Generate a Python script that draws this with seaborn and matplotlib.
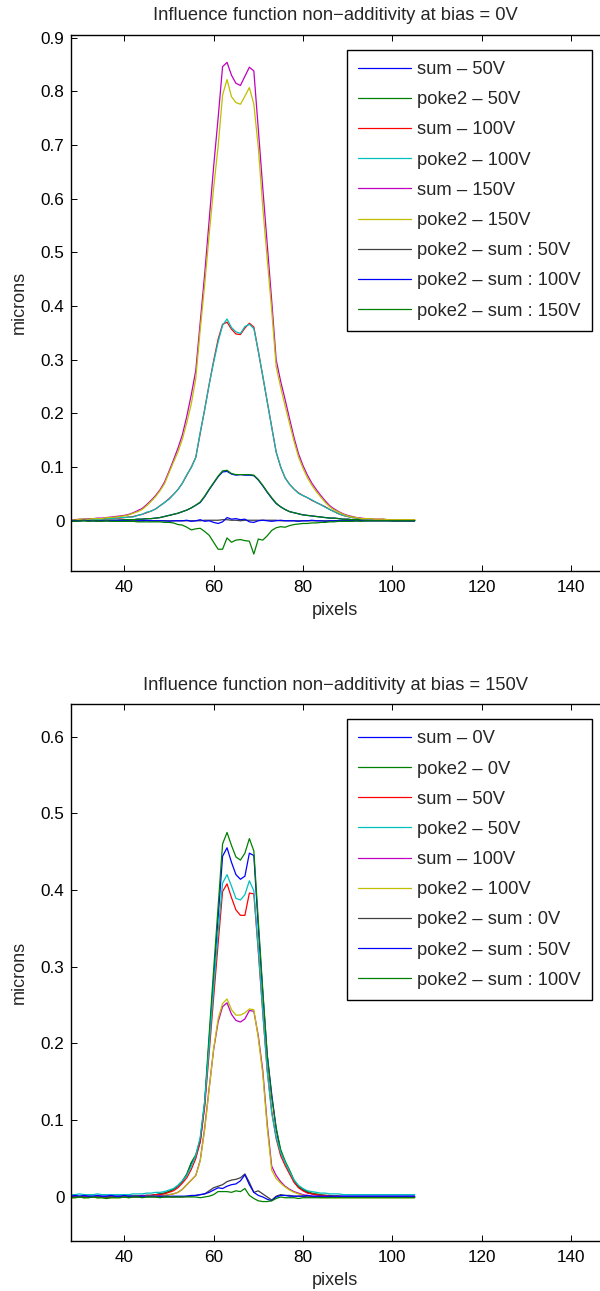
import numpy as np
import pandas as pd
import matplotlib
matplotlib.use("Agg")
import matplotlib.pyplot as plt
import seaborn as sns
from matplotlib.ticker import FixedLocator, FuncFormatter

sns.set_style("ticks")
plt.rcParams['font.family'] = ['Liberation Sans', 'DejaVu Sans']

# ---------------- data ----------------
x = np.arange(28, 106)  # pixel positions 28..105

# Top panel: bias = 0V
top_labels = ["sum – 50V", "poke2 – 50V", "sum – 100V", "poke2 – 100V", "sum – 150V",
              "poke2 – 150V", "poke2 – sum : 50V", "poke2 – sum : 100V", "poke2 – sum : 150V"]

top_sum50 = [0.000,0.000,0.000,0.001,0.001,0.001,0.001,0.001,0.001,0.001,
             0.001,0.001,0.002,0.002,0.002,0.003,0.003,0.004,0.004,0.005,
             0.006,0.008,0.010,0.012,0.014,0.017,0.020,0.024,0.029,0.034,
             0.045,0.058,0.070,0.082,0.091,0.092,0.087,0.085,0.086,0.085,
             0.085,0.084,0.076,0.065,0.053,0.042,0.032,0.026,0.021,0.017,
             0.015,0.013,0.011,0.010,0.009,0.008,0.007,0.006,0.005,0.005,
             0.004,0.003,0.003,0.002,0.002,0.002,0.001,0.001,0.001,0.001,
             0.001,0.001,0.000,0.000,0.000,0.000,0.000,0.000]
top_poke50 = [0.000,0.000,0.000,0.001,0.001,0.001,0.001,0.001,0.001,0.001,
              0.001,0.001,0.002,0.002,0.002,0.003,0.003,0.004,0.004,0.005,
              0.006,0.008,0.010,0.012,0.014,0.017,0.020,0.024,0.029,0.035,
              0.046,0.059,0.071,0.083,0.093,0.094,0.088,0.086,0.086,0.086,
              0.086,0.085,0.077,0.066,0.054,0.043,0.033,0.026,0.021,0.017,
              0.015,0.013,0.011,0.010,0.009,0.008,0.007,0.006,0.005,0.005,
              0.004,0.003,0.003,0.002,0.002,0.002,0.001,0.001,0.001,0.001,
              0.001,0.001,0.000,0.000,0.000,0.000,0.000,0.000]
top_sum100 = [0.001,0.001,0.002,0.002,0.002,0.003,0.003,0.003,0.004,0.004,
              0.005,0.005,0.006,0.007,0.008,0.010,0.012,0.015,0.018,0.022,
              0.028,0.034,0.041,0.049,0.058,0.070,0.085,0.100,0.118,0.163,
              0.208,0.254,0.298,0.338,0.366,0.370,0.357,0.348,0.347,0.359,
              0.368,0.361,0.316,0.269,0.222,0.175,0.128,0.100,0.080,0.068,
              0.059,0.052,0.047,0.043,0.038,0.034,0.030,0.026,0.021,0.017,
              0.013,0.010,0.008,0.006,0.005,0.004,0.003,0.003,0.002,0.002,
              0.002,0.001,0.001,0.001,0.001,0.001,0.001,0.001]
top_poke100 = [0.001,0.001,0.002,0.003,0.002,0.003,0.002,0.003,0.004,0.004,
               0.005,0.006,0.006,0.007,0.007,0.010,0.012,0.016,0.018,0.022,
               0.028,0.034,0.040,0.049,0.058,0.070,0.086,0.099,0.118,0.165,
               0.207,0.254,0.295,0.333,0.364,0.376,0.360,0.352,0.349,0.362,
               0.366,0.358,0.316,0.270,0.222,0.174,0.128,0.101,0.080,0.068,
               0.059,0.051,0.047,0.043,0.039,0.034,0.030,0.025,0.021,0.017,
               0.013,0.010,0.008,0.006,0.005,0.004,0.003,0.003,0.002,0.002,
               0.002,0.001,0.001,0.001,0.001,0.001,0.001,0.001]
top_sum150 = [0.002,0.002,0.003,0.003,0.004,0.004,0.005,0.005,0.006,0.007,
              0.008,0.009,0.010,0.012,0.015,0.019,0.023,0.030,0.038,0.047,
              0.058,0.072,0.092,0.113,0.135,0.160,0.195,0.235,0.280,0.370,
              0.460,0.560,0.660,0.750,0.846,0.854,0.830,0.815,0.811,0.828,
              0.845,0.838,0.730,0.620,0.515,0.410,0.300,0.260,0.226,0.190,
              0.155,0.125,0.103,0.085,0.070,0.058,0.047,0.037,0.028,0.022,
              0.017,0.013,0.010,0.008,0.006,0.005,0.004,0.004,0.003,0.003,
              0.003,0.002,0.002,0.002,0.002,0.002,0.002,0.002]
top_poke150 = [0.002,0.001,0.003,0.003,0.003,0.004,0.004,0.004,0.006,0.006,
               0.007,0.008,0.009,0.011,0.014,0.017,0.021,0.028,0.036,0.045,
               0.056,0.069,0.089,0.109,0.128,0.152,0.183,0.218,0.265,0.356,
               0.440,0.533,0.620,0.697,0.793,0.822,0.790,0.779,0.776,0.791,
               0.807,0.776,0.696,0.584,0.487,0.392,0.287,0.249,0.214,0.181,
               0.148,0.119,0.098,0.080,0.066,0.054,0.044,0.034,0.026,0.020,
               0.016,0.012,0.009,0.007,0.006,0.004,0.004,0.004,0.003,0.003,
               0.003,0.002,0.002,0.002,0.002,0.002,0.002,0.002]
top_diff50 = [0.000,0.000,0.000,0.000,0.000,0.000,0.000,0.000,0.000,0.000,
              0.000,0.000,0.000,0.000,0.000,0.000,0.000,0.000,0.000,0.000,
              0.000,0.000,0.000,0.000,0.000,0.000,0.000,0.000,0.000,0.000,
              0.001,0.001,0.001,0.001,0.002,0.002,0.001,0.001,0.000,0.001,
              0.001,0.001,0.001,0.001,0.001,0.001,0.001,0.000,0.000,0.000,
              0.000,0.000,0.000,0.000,0.000,0.000,0.000,0.000,0.000,0.000,
              0.000,0.000,0.000,0.000,0.000,0.000,0.000,0.000,0.000,0.000,
              0.000,0.000,0.000,0.000,0.000,0.000,0.000,0.000]
top_diff100 = [0.000,0.000,0.000,0.001,0.000,0.000,-0.001,0.000,0.000,0.000,
               0.000,0.001,0.000,0.000,-0.001,0.000,0.000,0.001,0.000,0.000,
               0.000,0.000,-0.001,0.000,0.000,0.000,0.001,-0.001,0.000,0.002,
               -0.001,0.000,-0.003,-0.005,-0.002,0.006,0.003,0.004,0.002,0.003,
               -0.002,-0.003,0.000,0.001,0.000,-0.001,0.000,0.001,0.000,0.000,
               0.000,-0.001,0.000,0.000,0.001,0.000,0.000,-0.001,0.000,0.000,
               0.000,0.000,0.000,0.000,0.000,0.000,0.000,0.000,0.000,0.000,
               0.000,0.000,0.000,0.000,0.000,0.000,0.000,0.000]
top_diff150 = [0.000,-0.001,0.000,0.000,-0.001,0.000,-0.001,-0.001,0.000,-0.001,
               -0.001,-0.001,-0.001,-0.001,-0.001,-0.002,-0.002,-0.002,-0.002,-0.002,
               -0.002,-0.003,-0.003,-0.004,-0.007,-0.008,-0.012,-0.017,-0.015,-0.014,
               -0.020,-0.027,-0.040,-0.053,-0.053,-0.032,-0.040,-0.036,-0.035,-0.037,
               -0.038,-0.062,-0.034,-0.036,-0.028,-0.018,-0.013,-0.011,-0.012,-0.009,
               -0.007,-0.006,-0.005,-0.005,-0.004,-0.004,-0.003,-0.003,-0.002,-0.002,
               -0.001,-0.001,-0.001,-0.001,0.000,-0.001,0.000,0.000,0.000,0.000,
               0.000,0.000,0.000,0.000,0.000,0.000,0.000,0.000]

# Bottom panel: bias = 150V
bot_labels = ["sum – 0V", "poke2 – 0V", "sum – 50V", "poke2 – 50V", "sum – 100V",
              "poke2 – 100V", "poke2 – sum : 0V", "poke2 – sum : 50V", "poke2 – sum : 100V"]

bot_sum0 = [0.001,0.001,0.001,0.001,0.001,0.001,0.001,0.001,0.001,0.001,
            0.001,0.001,0.001,0.001,0.001,0.001,0.002,0.002,0.002,0.003,
            0.004,0.005,0.007,0.010,0.014,0.020,0.029,0.044,0.053,0.072,
            0.121,0.204,0.284,0.364,0.444,0.455,0.436,0.420,0.414,0.418,
            0.448,0.445,0.352,0.266,0.185,0.134,0.089,0.059,0.045,0.033,
            0.021,0.013,0.009,0.006,0.004,0.003,0.002,0.002,0.001,0.001,
            0.001,0.001,0.001,0.001,0.001,0.001,0.001,0.001,0.001,0.001,
            0.001,0.001,0.001,0.001,0.001,0.001,0.001,0.001]
bot_poke0 = [0.000,0.000,0.000,-0.001,0.000,0.000,-0.001,0.000,0.000,0.000,
             0.000,0.000,0.000,0.001,0.001,0.001,0.001,0.002,0.002,0.003,
             0.004,0.005,0.007,0.010,0.015,0.021,0.030,0.045,0.055,0.075,
             0.125,0.212,0.296,0.378,0.460,0.475,0.458,0.443,0.439,0.448,
             0.467,0.451,0.360,0.270,0.185,0.130,0.090,0.062,0.047,0.035,
             0.022,0.014,0.010,0.007,0.005,0.004,0.003,0.002,0.002,0.001,
             0.001,0.000,0.000,0.000,0.000,0.000,0.000,0.000,0.000,0.000,
             0.000,0.000,0.000,0.000,0.000,0.000,0.000,0.000]
bot_sum50 = [0.000,0.000,0.000,0.000,0.000,0.000,0.000,0.000,0.000,0.000,
             0.000,0.000,0.000,0.000,0.001,0.001,0.001,0.002,0.002,0.003,
             0.003,0.004,0.006,0.008,0.012,0.018,0.025,0.036,0.050,0.072,
             0.118,0.188,0.260,0.330,0.398,0.408,0.390,0.374,0.367,0.367,
             0.396,0.395,0.320,0.240,0.165,0.112,0.076,0.054,0.041,0.030,
             0.019,0.012,0.008,0.005,0.004,0.003,0.002,0.002,0.001,0.001,
             0.001,0.000,0.000,0.000,0.000,0.000,0.000,0.000,0.000,0.000,
             0.000,0.000,0.000,0.000,0.000,0.000,0.000,0.000]
bot_poke50 = [0.003,0.003,0.004,0.003,0.003,0.003,0.004,0.003,0.003,0.003,
              0.003,0.003,0.003,0.003,0.004,0.004,0.004,0.005,0.005,0.006,
              0.006,0.007,0.009,0.011,0.015,0.021,0.028,0.040,0.054,0.078,
              0.124,0.196,0.272,0.345,0.409,0.420,0.405,0.389,0.387,0.394,
              0.412,0.399,0.323,0.242,0.164,0.109,0.078,0.058,0.045,0.033,
              0.022,0.015,0.011,0.008,0.007,0.006,0.005,0.005,0.004,0.004,
              0.004,0.003,0.003,0.003,0.003,0.003,0.003,0.003,0.003,0.003,
              0.003,0.003,0.003,0.003,0.003,0.003,0.003,0.003]
bot_sum100 = [0.000,0.000,0.000,0.000,0.000,0.000,0.000,0.000,0.000,0.000,
              0.000,0.000,0.000,0.000,0.000,0.000,0.001,0.001,0.001,0.001,
              0.002,0.002,0.003,0.004,0.006,0.010,0.016,0.022,0.028,0.048,
              0.090,0.142,0.192,0.228,0.248,0.253,0.238,0.230,0.228,0.232,
              0.243,0.242,0.210,0.165,0.095,0.040,0.028,0.020,0.014,0.010,
              0.007,0.005,0.003,0.002,0.001,0.001,0.000,0.000,0.000,0.000,
              0.000,0.000,0.000,0.000,0.000,0.000,0.000,0.000,0.000,0.000,
              0.000,0.000,0.000,0.000,0.000,0.000,0.000,0.000]
bot_poke100 = [-0.001,-0.001,0.000,-0.001,-0.001,0.000,-0.001,-0.001,-0.002,-0.001,
               -0.001,-0.001,0.000,-0.001,0.000,0.000,0.000,0.001,0.001,0.001,
               0.001,0.002,0.003,0.004,0.006,0.010,0.016,0.022,0.028,0.047,
               0.088,0.140,0.193,0.232,0.252,0.258,0.244,0.237,0.237,0.240,
               0.245,0.244,0.207,0.160,0.090,0.035,0.024,0.018,0.013,0.009,
               0.006,0.004,0.002,0.001,0.000,0.000,-0.001,-0.001,-0.001,-0.001,
               -0.001,-0.001,-0.001,-0.001,-0.001,-0.001,-0.001,-0.001,-0.001,-0.001,
               -0.001,-0.001,-0.001,-0.001,-0.001,-0.001,-0.001,-0.001]
bot_diff0 = [0.000,0.000,0.000,0.000,0.000,0.000,0.000,0.000,0.000,0.000,
             0.000,0.000,0.000,0.000,0.000,0.000,0.000,0.000,0.000,0.000,
             0.000,0.000,0.000,0.000,0.000,0.000,0.001,0.001,0.002,0.003,
             0.004,0.008,0.012,0.014,0.016,0.020,0.022,0.023,0.025,0.030,
             0.019,0.006,0.008,0.004,0.000,-0.004,0.001,0.003,0.002,0.002,
             0.001,0.001,0.001,0.000,0.000,0.000,0.000,0.000,0.000,0.000,
             0.000,0.000,0.000,0.000,0.000,0.000,0.000,0.000,0.000,0.000,
             0.000,0.000,0.000,0.000,0.000,0.000,0.000,0.000]
bot_diff50 = [0.001,0.002,0.001,0.002,0.001,0.001,0.002,0.001,0.001,0.002,
              0.001,0.001,0.002,0.001,0.001,0.001,0.001,0.001,0.001,0.001,
              0.001,0.001,0.001,0.001,0.001,0.001,0.001,0.002,0.002,0.003,
              0.004,0.006,0.009,0.012,0.011,0.014,0.016,0.017,0.021,0.029,
              0.016,0.006,0.002,0.000,-0.003,-0.005,0.000,0.002,0.002,0.001,
              0.001,0.001,0.001,0.002,0.001,0.001,0.001,0.001,0.001,0.001,
              0.001,0.001,0.001,0.001,0.001,0.001,0.001,0.001,0.001,0.001,
              0.001,0.001,0.001,0.001,0.001,0.001,0.001,0.001]
bot_diff100 = [-0.001,-0.001,0.000,-0.001,-0.001,0.000,-0.001,-0.001,-0.002,-0.001,
               -0.001,-0.001,0.000,-0.001,0.000,0.000,-0.001,0.000,0.000,0.000,
               -0.001,0.000,0.000,0.000,0.000,0.000,0.000,0.000,0.000,-0.001,
               0.000,0.001,0.003,0.007,0.007,0.007,0.006,0.008,0.007,0.011,
               0.002,-0.002,-0.005,-0.006,-0.006,-0.005,-0.002,0.000,-0.001,-0.001,
               -0.001,-0.002,-0.001,-0.001,-0.001,-0.001,-0.001,-0.001,-0.001,-0.001,
               -0.001,-0.001,-0.001,-0.001,-0.001,-0.001,-0.001,-0.001,-0.001,-0.001,
               -0.001,-0.001,-0.001,-0.001,-0.001,-0.001,-0.001,-0.001]

top_series = [top_sum50, top_poke50, top_sum100, top_poke100, top_sum150,
              top_poke150, top_diff50, top_diff100, top_diff150]
bot_series = [bot_sum0, bot_poke0, bot_sum50, bot_poke50, bot_sum100,
              bot_poke100, bot_diff0, bot_diff50, bot_diff100]

# MATLAB default colour order
colors = [(0, 0, 1), (0, 0.5, 0), (1, 0, 0), (0, 0.75, 0.75), (0.75, 0, 0.75),
          (0.75, 0.75, 0), (0.25, 0.25, 0.25), (0, 0, 1), (0, 0.5, 0)]

# ---------------- figure ----------------
W, H = 600, 1291
fig = plt.figure(figsize=(W / 100, H / 100), dpi=100)

def add_ax(top_px, bottom_px, left_px=70.7, right_px=600):
    return fig.add_axes([left_px / W, 1 - bottom_px / H,
                         (right_px - left_px) / W, (bottom_px - top_px) / H])

ax1 = add_ax(35, 570.7)
ax2 = add_ax(704.3, 1240.7)

fmt = FuncFormatter(lambda v, p: "0" if abs(v) < 1e-9 else f"{v:g}")
FS = 13.2

def draw(ax, series, labels, title, ylim, yticks, leg_top_px):
    for vals, lab, col in zip(series, labels, colors):
        df = pd.DataFrame({"pixels": x, "microns": vals})
        sns.lineplot(data=df, x="pixels", y="microns", color=col, label=lab,
                     ax=ax, linewidth=0.9)
    ax.set_xlim(28, 146.5)
    ax.set_ylim(*ylim)
    ax.xaxis.set_major_locator(FixedLocator([40, 60, 80, 100, 120, 140]))
    ax.yaxis.set_major_locator(FixedLocator(yticks))
    ax.yaxis.set_major_formatter(fmt)
    ax.tick_params(direction="in", length=4.5, width=0.7, top=True, right=False,
                   labelsize=12.3, colors="black")
    ax.tick_params(axis="x", pad=7)
    ax.tick_params(axis="y", pad=4.5)
    for side in ["left", "bottom", "top"]:
        ax.spines[side].set_visible(True)
        ax.spines[side].set_color("black")
        ax.spines[side].set_linewidth(1.0)
    ax.spines["right"].set_visible(False)
    ax.set_title(title, fontsize=FS, pad=10.5)
    ax.set_xlabel("pixels", fontsize=13, labelpad=4.5)
    ax.set_ylabel("microns", fontsize=13, labelpad=9)
    leg = ax.legend(loc="upper left", bbox_to_anchor=(346.7 / W, 1 - leg_top_px / H),
                    bbox_transform=fig.transFigure, borderaxespad=0, frameon=True,
                    fancybox=False, edgecolor="black", framealpha=1, fontsize=FS,
                    handlelength=2.9, handletextpad=0.35, labelspacing=0.72,
                    borderpad=0.6)
    leg.get_frame().set_linewidth(1.0)

draw(ax1, top_series, top_labels, "Influence function non−additivity at bias = 0V",
     (-0.093, 0.905), [0, 0.1, 0.2, 0.3, 0.4, 0.5, 0.6, 0.7, 0.8, 0.9], 50)
draw(ax2, bot_series, bot_labels, "Influence function non−additivity at bias = 150V",
     (-0.057, 0.642), [0, 0.1, 0.2, 0.3, 0.4, 0.5, 0.6], 719.3)

fig.savefig("out.png", dpi=100, facecolor="white")
